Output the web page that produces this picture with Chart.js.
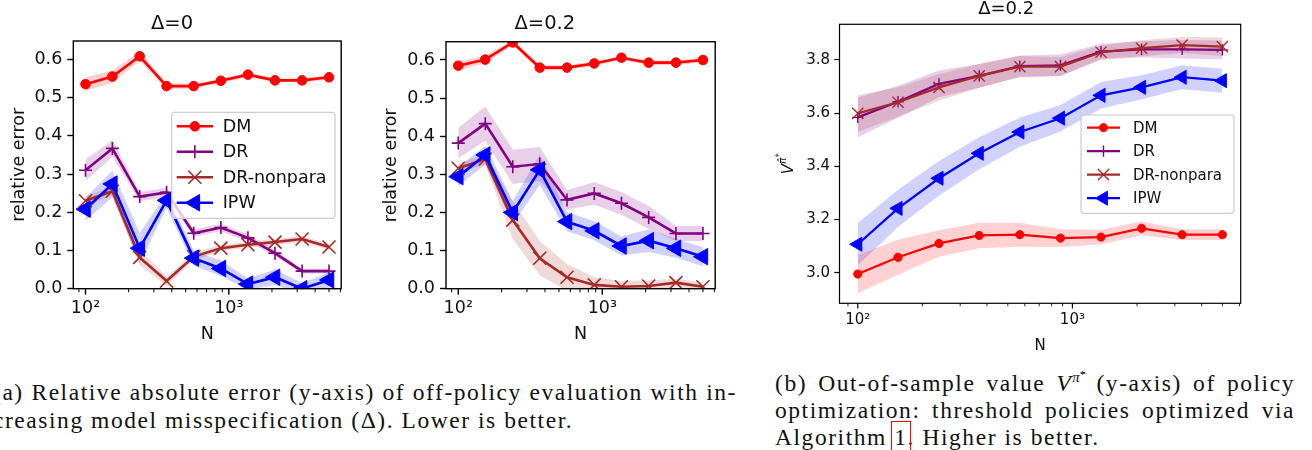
<!DOCTYPE html>
<html>
<head>
<meta charset="utf-8">
<script src="https://cdn.jsdelivr.net/npm/chart.js@4.4.0/dist/chart.umd.min.js"></script>
<style>
  body { margin: 0; width: 1312px; height: 450px; overflow: hidden; background: #fff; position: relative; }
  canvas { position: absolute; }
  .cap { position: absolute; font-family: "Liberation Serif", serif; font-size: 23.5px; line-height: 27px;
         color: #111; white-space: nowrap; letter-spacing: 1.55px; }
  .just { text-align: justify; text-align-last: justify; white-space: normal; }
  .cap sup { font-size: 15px; vertical-align: 9px; line-height: 0; letter-spacing: 0; }
  .cap sup sup { font-size: 11px; vertical-align: 4px; }
  .ref { outline: 1.5px solid #ff0000; outline-offset: 2px; }
</style>
</head>
<body>
<canvas id="c1" width="352" height="350" style="left:0px;top:0px"></canvas>
<canvas id="c2" width="354" height="350" style="left:372px;top:0px"></canvas>
<canvas id="c3" width="480" height="360" style="left:770px;top:0px"></canvas>

<div class="cap just" style="left:-7px;top:379px;width:744px">(a) Relative absolute error (y-axis) of off-policy evaluation with in-</div>
<div class="cap" style="left:-7px;top:407px">creasing model misspecification (Δ). Lower is better.</div>

<div class="cap just" style="left:775px;top:370px;width:520px">(b) Out-of-sample value <i>V</i><sup><i>π̂</i><sup>*</sup></sup> (y-axis) of policy</div>
<div class="cap just" style="left:775px;top:397px;width:520px">optimization: threshold policies optimized via</div>
<div class="cap" style="left:775px;top:424px">Algorithm <span class="ref">1</span>. Higher is better.</div>

<script>
// sample sizes (x axis, log scale)
const N = [100, 154, 239, 368, 569, 880, 1359, 2100, 3246, 5000];
const LOG_TICKS = [90, 100, 200, 300, 400, 500, 600, 700, 800, 900, 1000, 2000, 3000, 4000, 5000, 6000];
const ERR_TICKS = [0, 0.1, 0.2, 0.3, 0.4, 0.5, 0.6];
const V_TICKS = [3.0, 3.2, 3.4, 3.6, 3.8];
const METHODS = ["DM", "DR", "DR-nonpara", "IPW"];

// relative error, Delta = 0
const dm0 = [0.535, 0.555, 0.608, 0.530, 0.530, 0.544, 0.560, 0.545, 0.545, 0.553];
const dm0Err = [0.018, 0.016, 0.012, 0.008, 0.006, 0.006, 0.006, 0.005, 0.005, 0.006];
const dr0 = [0.310, 0.367, 0.241, 0.252, 0.145, 0.160, 0.133, 0.093, 0.046, 0.046];
const dr0Err = [0.028, 0.022, 0.012, 0.012, 0.010, 0.010, 0.010, 0.008, 0.006, 0.006];
const drnp0 = [0.230, 0.255, 0.082, 0.020, 0.084, 0.106, 0.115, 0.122, 0.130, 0.109];
const drnp0Err = [0.012, 0.012, 0.020, 0.012, 0.010, 0.008, 0.008, 0.008, 0.008, 0.008];
const ipw0 = [0.208, 0.274, 0.106, 0.231, 0.080, 0.053, 0.012, 0.030, 0.000, 0.023];
const ipw0Err = [0.030, 0.035, 0.040, 0.020, 0.020, 0.020, 0.015, 0.020, 0.015, 0.020];

// relative error, Delta = 0.2
const dm2 = [0.585, 0.601, 0.646, 0.580, 0.580, 0.591, 0.606, 0.593, 0.593, 0.600];
const dm2Err = [0.012, 0.010, 0.008, 0.008, 0.006, 0.006, 0.006, 0.006, 0.006, 0.006];
const dr2 = [0.382, 0.433, 0.320, 0.327, 0.233, 0.250, 0.224, 0.187, 0.145, 0.145];
const dr2Err = [0.040, 0.045, 0.045, 0.045, 0.025, 0.030, 0.030, 0.030, 0.020, 0.020];
const drnp2 = [0.316, 0.340, 0.180, 0.080, 0.030, 0.010, 0.005, 0.007, 0.016, 0.005];
const drnp2Err = [0.012, 0.015, 0.050, 0.045, 0.035, 0.020, 0.015, 0.015, 0.010, 0.010];
const ipw2 = [0.294, 0.351, 0.200, 0.312, 0.176, 0.152, 0.112, 0.126, 0.106, 0.084];
const ipw2Err = [0.025, 0.025, 0.030, 0.040, 0.025, 0.025, 0.025, 0.030, 0.025, 0.025];

// out-of-sample policy value, Delta = 0.2
const vDm = [2.995, 3.058, 3.110, 3.140, 3.143, 3.130, 3.134, 3.167, 3.143, 3.143];
const vDmErr = [0.072, 0.066, 0.050, 0.048, 0.045, 0.033, 0.028, 0.026, 0.020, 0.020];
const vDr = [3.584, 3.643, 3.710, 3.740, 3.777, 3.780, 3.831, 3.840, 3.840, 3.838];
const vDrErr = [0.075, 0.060, 0.050, 0.045, 0.040, 0.040, 0.030, 0.030, 0.035, 0.035];
const vDrnp = [3.599, 3.641, 3.697, 3.740, 3.775, 3.775, 3.829, 3.844, 3.856, 3.850];
const vDrnpErr = [0.070, 0.055, 0.050, 0.045, 0.040, 0.035, 0.025, 0.030, 0.030, 0.035];
const vIpw = [3.107, 3.242, 3.355, 3.449, 3.529, 3.581, 3.667, 3.697, 3.735, 3.722];
const vIpwErr = [0.080, 0.070, 0.065, 0.060, 0.055, 0.050, 0.050, 0.045, 0.045, 0.045];

const FONT = "'DejaVu Sans', sans-serif";
Chart.defaults.font.family = FONT;
Chart.defaults.color = "#111";

const COLORS = { "DM": [255, 0, 0], "DR": [128, 0, 128], "DR-nonpara": [165, 42, 42], "IPW": [0, 0, 255] };
const MARKERS = {
    "DM": { style: "circle", r: 4.8, rot: 0, bw: 1 },
    "DR": { style: "cross", r: 6.5, rot: 0, bw: 1.6 },
    "DR-nonpara": { style: "crossRot", r: 9.2, rot: 0, bw: 1.6 },
    "IPW": { style: "triangle", r: 9.5, rot: -90, bw: 1 }
};

function rgba(c, a) { return "rgba(" + c[0] + "," + c[1] + "," + c[2] + "," + a + ")"; }
function isDecade(v) { const l = Math.log10(v); return Math.abs(l - Math.round(l)) < 1e-9; }

// line with markers plus a shaded band (lower / upper pair filled together)
function series(name, vals, errs, k, datasets) {
    const c = COLORS[name], m = MARKERS[name], rank = METHODS.indexOf(name);
    datasets.push({
        data: N.map((n, i) => ({ x: n, y: vals[i] - errs[i] })),
        borderWidth: 0, borderColor: "rgba(0,0,0,0)", pointRadius: 0, fill: false, order: 20 + rank
    });
    datasets.push({
        data: N.map((n, i) => ({ x: n, y: vals[i] + errs[i] })),
        borderWidth: 0, borderColor: "rgba(0,0,0,0)", pointRadius: 0, fill: "-1",
        backgroundColor: rgba(c, 0.18), order: 20 + rank
    });
    datasets.push({
        label: name,
        data: N.map((n, i) => ({ x: n, y: vals[i] })),
        borderColor: rgba(c, 1), backgroundColor: rgba(c, 1),
        pointBackgroundColor: rgba(c, 1), pointBorderColor: rgba(c, 1),
        borderWidth: 2.6 * k, pointStyle: m.style, pointRadius: m.r * k,
        pointRotation: m.rot, pointBorderWidth: m.bw * k, order: 10 - rank
    });
}

// box, minor/major log ticks, optional V^pi label
const axesFrame = {
    id: "axesFrame",
    afterDraw(chart, args, o) {
        const ctx = chart.ctx, a = chart.chartArea, xs = chart.scales.x;
        ctx.save();
        ctx.strokeStyle = "#000";
        xs.ticks.forEach(t => {
            const major = isDecade(t.value);
            const px = xs.getPixelForValue(t.value);
            ctx.lineWidth = (major ? 1.4 : 1) * o.k;
            ctx.beginPath();
            ctx.moveTo(px, a.bottom);
            ctx.lineTo(px, a.bottom + (major ? 6 : 3.5) * o.k);
            ctx.stroke();
        });
        ctx.lineWidth = 1.4 * o.k;
        ctx.strokeRect(a.left, a.top, a.right - a.left, a.bottom - a.top);
        if (o.vlabel) {
            // y label V^{pi-hat *}
            ctx.translate(o.vlabel.x, o.vlabel.y);
            ctx.rotate(-Math.PI / 2);
            ctx.fillStyle = "#111";
            ctx.textBaseline = "alphabetic";
            ctx.font = "oblique 15px " + FONT;
            const wV = ctx.measureText("V").width;
            ctx.font = "oblique 10.5px " + FONT;
            const wP = ctx.measureText("π̂").width;
            ctx.font = "8px " + FONT;
            const wS = ctx.measureText("*").width;
            let x0 = -(wV + wP + wS) / 2;
            ctx.font = "oblique 15px " + FONT;
            ctx.fillText("V", x0, 5.5);
            ctx.font = "oblique 10.5px " + FONT;
            ctx.fillText("π̂", x0 + wV, -1.5);
            ctx.font = "8px " + FONT;
            ctx.fillText("*", x0 + wV + wP + 0.5, -6);
        }
        ctx.restore();
    }
};

// matplotlib-like legend: line sample with marker in its middle
const mplLegend = {
    id: "mplLegend",
    afterDraw(chart, args, o) {
        if (!o || !o.box) return;
        const ctx = chart.ctx;
        ctx.save();
        ctx.beginPath();
        ctx.roundRect(o.box[0], o.box[1], o.box[2], o.box[3], 3);
        ctx.fillStyle = "rgba(255,255,255,0.8)";
        ctx.fill();
        ctx.strokeStyle = "#cccccc";
        ctx.lineWidth = 1.2;
        ctx.stroke();
        METHODS.forEach((name, i) => {
            const ds = chart.data.datasets.find(d => d.label === name);
            const y = o.rowY + i * o.rowH;
            ctx.strokeStyle = ds.borderColor;
            ctx.lineWidth = ds.borderWidth;
            ctx.beginPath();
            ctx.moveTo(o.lineX[0], y);
            ctx.lineTo(o.lineX[1], y);
            ctx.stroke();
            ctx.fillStyle = ds.borderColor;
            ctx.lineWidth = ds.pointBorderWidth;
            Chart.helpers.drawPoint(ctx, {
                pointStyle: ds.pointStyle, radius: ds.pointRadius,
                rotation: ds.pointRotation, borderWidth: ds.pointBorderWidth
            }, (o.lineX[0] + o.lineX[1]) / 2, y);
            ctx.fillStyle = "#111";
            ctx.font = o.size + "px " + FONT;
            ctx.textBaseline = "middle";
            ctx.fillText(name, o.textX, y + 1);
        });
        ctx.restore();
    }
};

function makeChart(id, o) {
    const tickFont = { family: FONT, size: o.fontSize };
    return new Chart(document.getElementById(id), {
        type: "line",
        data: { datasets: o.datasets },
        options: {
            responsive: false, animation: false, devicePixelRatio: 1, events: [],
            layout: { padding: { top: o.padTop, right: o.padRight, left: 0, bottom: 0 } },
            elements: { line: { tension: 0 } },
            plugins: {
                legend: { display: false },
                tooltip: { enabled: false },
                title: {
                    display: true, text: o.title, color: "#111",
                    font: { family: FONT, size: o.titleSize, weight: "normal", lineHeight: 1 },
                    padding: { top: 0, bottom: o.titleGap }
                },
                mplLegend: o.legend || false,
                axesFrame: { k: o.k, vlabel: o.vlabel || null }
            },
            scales: {
                x: {
                    type: "logarithmic", min: 82.2, max: 6083,
                    afterBuildTicks: s => { s.ticks = LOG_TICKS.filter(v => v >= s.min && v <= s.max).map(v => ({ value: v })); },
                    afterFit: s => { s.height = o.xHeight; },
                    border: { display: false },
                    grid: { drawOnChartArea: false, drawTicks: true, tickLength: 6 * o.k, tickColor: "rgba(0,0,0,0)" },
                    ticks: {
                        autoSkip: false, maxRotation: 0, padding: 3, color: "#111", font: tickFont,
                        callback: v => (v === 100 ? "10²" : v === 1000 ? "10³" : "")
                    },
                    title: { display: true, text: "N", color: "#111", font: tickFont, padding: { top: 0, bottom: o.nGap } }
                },
                y: {
                    min: o.yMin, max: o.yMax,
                    afterBuildTicks: s => { s.ticks = o.yTicks.map(v => ({ value: v })); },
                    afterFit: s => { s.width = o.yWidth; },
                    border: { display: false },
                    grid: { drawOnChartArea: false, drawTicks: true, tickLength: 6 * o.k, tickColor: "#000", tickWidth: 1.4 * o.k },
                    ticks: { padding: 5 * o.k, color: "#111", font: tickFont, callback: v => v.toFixed(1) },
                    title: {
                        display: !!o.yTitle, text: o.yTitle || "", color: "#111", font: tickFont,
                        padding: { top: o.yTitleGap || 0, bottom: 0 }
                    }
                }
            }
        },
        plugins: [axesFrame, mplLegend]
    });
}

// Delta = 0
const ds1 = [];
series("DM", dm0, dm0Err, 1, ds1);
series("DR", dr0, dr0Err, 1, ds1);
series("DR-nonpara", drnp0, drnp0Err, 1, ds1);
series("IPW", ipw0, ipw0Err, 1, ds1);
makeChart("c1", {
    datasets: ds1, k: 1, fontSize: 17.5, titleSize: 19.5, title: "Δ=0",
    padTop: 14.25, titleGap: 7.25, padRight: 8,
    xHeight: 61.3, nGap: 5.5, yWidth: 73.3, yTitle: "relative error", yTitleGap: 9,
    yMin: 0, yMax: 0.648, yTicks: ERR_TICKS,
    legend: { box: [171.7, 112.3, 163.3, 106], rowY: 126.3, rowH: 25.5, lineX: [176.7, 213], textX: 222.7, size: 17.5 }
});

// Delta = 0.2
const ds2 = [];
series("DM", dm2, dm2Err, 1, ds2);
series("DR", dr2, dr2Err, 1, ds2);
series("DR-nonpara", drnp2, drnp2Err, 1, ds2);
series("IPW", ipw2, ipw2Err, 1, ds2);
makeChart("c2", {
    datasets: ds2, k: 1, fontSize: 17.5, titleSize: 19.5, title: "Δ=0.2",
    padTop: 14.25, titleGap: 7.95, padRight: 8.3,
    xHeight: 61.3, nGap: 5.5, yWidth: 74, yTitle: "relative error", yTitleGap: 9,
    yMin: 0, yMax: 0.648, yTicks: ERR_TICKS
});

// policy value, Delta = 0.2
const ds3 = [];
series("DM", vDm, vDmErr, 0.86, ds3);
series("DR", vDr, vDrErr, 0.86, ds3);
series("DR-nonpara", vDrnp, vDrnpErr, 0.86, ds3);
series("IPW", vIpw, vIpwErr, 0.86, ds3);
makeChart("c3", {
    datasets: ds3, k: 0.86, fontSize: 15, titleSize: 18, title: "Δ=0.2",
    padTop: 0, titleGap: 6.3, padRight: 7.7,
    xHeight: 56.7, nGap: 5, yWidth: 69.5,
    yMin: 2.885, yMax: 3.934, yTicks: V_TICKS,
    vlabel: { x: 17.5, y: 164 },
    legend: { box: [311, 115, 153, 98.3], rowY: 127.7, rowH: 23.5, lineX: [317, 350], textX: 363, size: 15 }
});
</script>
</body>
</html>
